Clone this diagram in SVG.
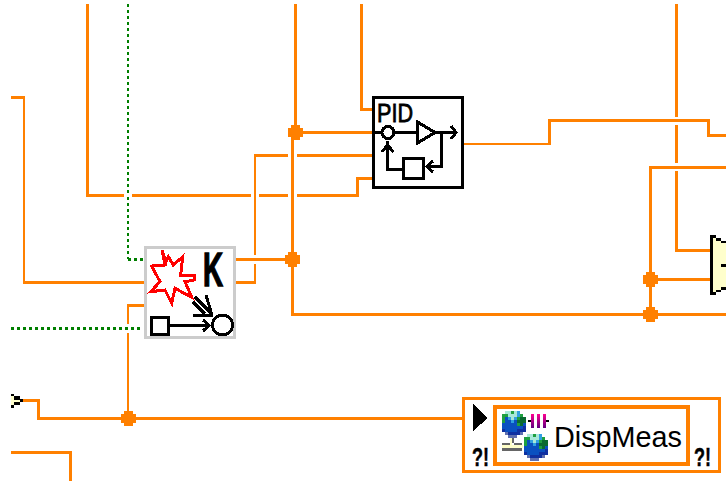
<svg xmlns="http://www.w3.org/2000/svg" width="726" height="481" viewBox="0 0 726 481" shape-rendering="crispEdges">
<style>
.w{fill:none;stroke:#ff8000;stroke-width:3;stroke-linejoin:miter}
.n{stroke-width:2}
.g{fill:none;stroke:#007f00;stroke-dasharray:3 3}
.k{fill:none;stroke:#000;stroke-width:3}
.t{font-family:"Liberation Sans",Arial,sans-serif;fill:#000}
.b{font-weight:bold}
.p{fill:none;stroke-width:3}
</style>
<defs>
<path id="dot" d="M3 0h9v3h3v9h-3v3h-9v-3h-3v-9h3z" fill="#ff8000"/>
<linearGradient id="bar" x1="0" y1="0" x2="0" y2="1"><stop offset="0" stop-color="#ff0090"/><stop offset="1" stop-color="#600080"/></linearGradient>
<g id="globe">
<path class="p" stroke="#a8e8d8" d="M3 1.500h6M12 1.500h3M6 4.500h9M9 7.500h3"/>
<path class="p" stroke="#30a0e0" d="M15 1.500h3M15 4.500h3M6 7.500h3M12 7.500h3M9 10.500h3"/>
<path class="p" stroke="#1fa040" d="M9 1.500h3M0 4.500h6M18 4.500h3M0 7.500h3M15 7.500h3M0 10.500h3M15 13.500h3"/>
<path class="p" stroke="#0a6a30" d="M18 7.500h6M15 10.500h9M18 13.500h3"/>
<path class="p" stroke="#0a50c0" d="M3 7.500h3M3 10.500h6M12 10.500h3M0 13.500h15M21 13.500h3M0 16.500h21M3 19.500h12"/>
<path class="p" stroke="#1030a0" d="M21 16.500h3M0 19.500h3M15 19.500h9M6 22.500h12"/>
<path class="p" stroke="#6070b0" d="M3 22.500h3M18 22.500h3M6 25.500h9"/>
</g>
<g id="warn"><text class="t b" font-size="26" stroke="#000" stroke-width="0.5" textLength="17" lengthAdjust="spacingAndGlyphs">?!</text></g>
</defs>
<g id="connectors">
<path class="w" d="M87.500 4V195.500H124M132 195.500H251M259 195.500H288M297 195.500H357.500V178.500H373"/>
<path class="w" d="M295.500 4V132.500H373"/>
<path class="w" d="M292.500 132V314.500H726"/>
<path class="w" d="M361.500 4V109.500H373"/>
<path class="w n" d="M464 144H549"/>
<path class="w" d="M549.500 145V120.500H708.500V135.500H726"/>
<path class="w" d="M297 155.500H373M288 155.500H254"/>
<path class="w n" d="M255 155V255M255 264V283"/>
<path class="w" d="M256 282.500H235"/>
<path class="w" d="M235 259.500H286"/>
<path class="w n" d="M24 97V282"/>
<path class="w" d="M11 97.500H25M23 282.500H145"/>
<path class="w" d="M676.500 4V117M676.500 125V163M676.500 171V250.500H711"/>
<path class="w" d="M726 167.500H650.500V314M651 279.500H711"/>
<path class="w n" d="M128 418V333M128 324V304"/>
<path class="w" d="M127 305.500H145"/>
<path class="w" d="M23 400.500H38.500V418.500H463"/>
<path class="w" d="M11 452.500H70.500V481"/>
<path class="g" stroke-width="2" d="M128 4V194M128 197V259"/>
<path class="g" stroke-width="3" d="M128 259.500H143M11 328.500H143"/>
</g>
<g id="junctions">
<use href="#dot" x="288" y="125"/>
<use href="#dot" x="285" y="252"/>
<use href="#dot" x="643" y="272"/>
<use href="#dot" x="643" y="307"/>
<use href="#dot" x="121" y="411"/>
</g>
<g id="pid">
<rect x="373.500" y="97.500" width="89" height="90" fill="#fff" stroke="#000" stroke-width="3"/>
<text class="t" x="377" y="122" font-size="26" stroke="#000" stroke-width="0.8" textLength="36" lengthAdjust="spacingAndGlyphs" shape-rendering="auto">PID</text>
<path class="k" d="M374 132.500H381M395 132.500H416M436 132.500H456M451 126l5 6.500-5 6.500"/>
<circle class="k" cx="388" cy="132.500" r="6" fill="#fff"/>
<path class="k" d="M417.500 122V143L435 132.500Z"/>
<path class="k" d="M441.500 132.500V166.500H428M433 161l-6 5.500 6 5.500"/>
<rect class="k" x="403.500" y="158.500" width="20" height="20"/>
<path class="k" d="M403 169.500H387.500V141M382 152l5.500-7 6 7"/>
</g>
<g id="k-node">
<rect x="145.500" y="247.500" width="89" height="90" fill="#fff" stroke="#ccc" stroke-width="3"/>
<polygon points="162,250 166,262 168.300,256.700 173.300,265 182.700,256.700 180.700,275 194,275 194,280 185,281.700 191.700,297.300 175,288.300 171.700,303.300 165,290 150.700,291.700 160,281.700 151.700,266 165,265" fill="#fff" stroke="#f00" stroke-width="3"/>
<text class="t b" x="203" y="286" font-size="48" stroke="#000" stroke-width="1.5" textLength="20" lengthAdjust="spacingAndGlyphs">K</text>
<path class="k" d="M195 297L212 314M193 302L205 314M193 315H213M206 295L212 315"/>
<rect class="k" x="151.500" y="317.500" width="17" height="17"/>
<path class="k" d="M169 325.500H210M203 320l6 5.500-6 5.500"/>
<circle class="k" cx="222.500" cy="325" r="10"/>
</g>
<g id="left-terminal">
<path d="M11 394h3v2h6v3h3v3h-3v3h-6v-3h6v-2h-6v-4h-3zM11 405h3v3h-3z" fill="#000"/>
<path d="M11 396h3v4h6v2h-6v3h-3z" fill="#ffc"/>
</g>
<g id="right-node">
<path d="M713 238h3v3h5v2h5v44h-5v3h-5v2h-3z" fill="#ffc"/>
<path d="M710 235h6v3h5v3h5v2h-5v-2h-5v-3h-3v54h3v-2h5v-3h5v3h-5v2h-5v3h-6zM721 264h5v3h-5z" fill="#000"/>
</g>
<g id="dispmeas">
<rect x="463.500" y="398.500" width="256" height="73" fill="#fff" stroke="#ff8000" stroke-width="3"/>
<rect x="495" y="407" width="193" height="57" fill="#fff" stroke="#ff8000" stroke-width="4"/>
<polygon points="473,404 488,418 473,431" fill="#000"/>
<use href="#warn" x="472" y="466"/>
<use href="#warn" x="694" y="466"/>
<path d="M510 437h4v6h8v2h-8v-2h-4v2h-8v-2h8zM502 448h20v3h-8v0h-4v0h-8z" fill="#666"/>
<path d="M510 437h2v8h11v3h-21v-3h8z" fill="#ffffc8"/>
<use href="#globe" x="501.500" y="411"/>
<use href="#globe" x="524" y="434"/>
<path d="M528 421h3M546 421h3" stroke="#000" stroke-width="2"/>
<rect x="531" y="414" width="3" height="14" fill="url(#bar)"/>
<rect x="537" y="414" width="3" height="14" fill="url(#bar)"/>
<rect x="543" y="414" width="3" height="14" fill="url(#bar)"/>
<text class="t" x="554" y="447" font-size="29" textLength="128" lengthAdjust="spacingAndGlyphs">DispMeas</text>
</g>
</svg>
